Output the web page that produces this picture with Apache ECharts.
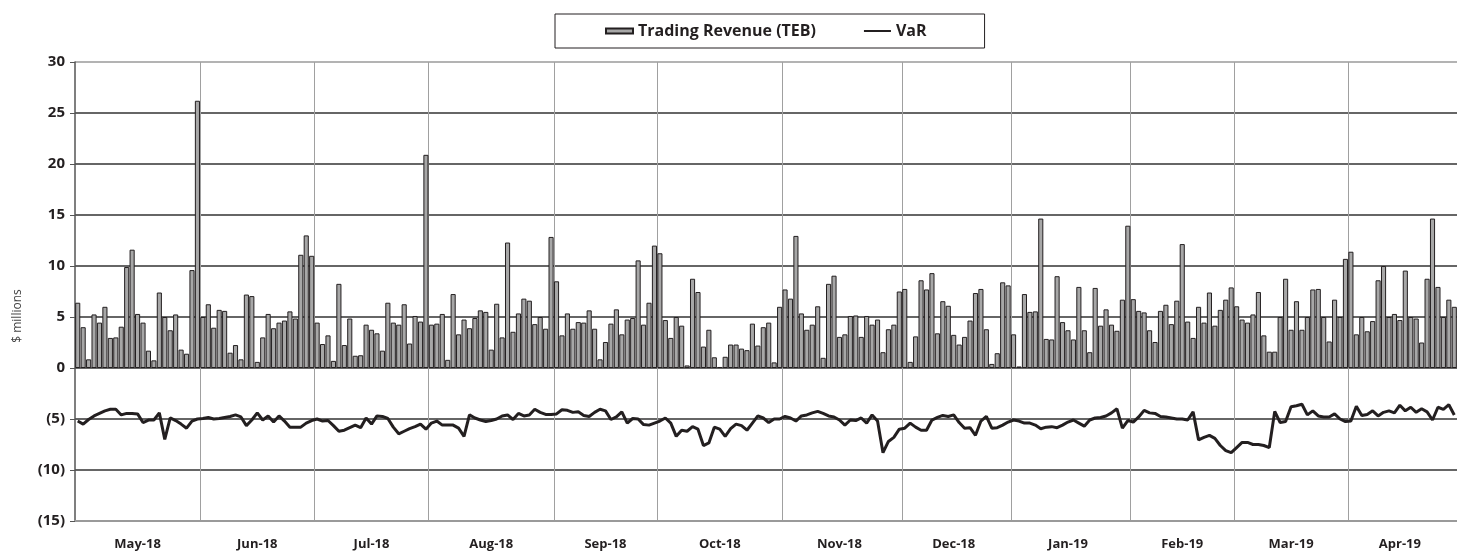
<!DOCTYPE html>
<html>
<head>
<meta charset="utf-8">
<style>
  html, body { margin: 0; padding: 0; background: #fff; }
  #chart { width: 1457px; height: 554px; }
</style>
<script src="https://cdn.jsdelivr.net/npm/echarts@6/dist/echarts.min.js"></script>
</head>
<body>
<div id="chart"></div>
<script>
const months = ['May-18', 'Jun-18', 'Jul-18', 'Aug-18', 'Sep-18', 'Oct-18',
  'Nov-18', 'Dec-18', 'Jan-19', 'Feb-19', 'Mar-19', 'Apr-19']
const tradingDays = [23, 21, 21, 23, 19, 23, 22, 20, 22, 19, 21, 20]

// daily trading revenue, $ millions
const revenue = [
  6.4, 4.0, 0.85, 5.25, 4.45, 6.0, 2.95, 3.0, 4.05, 9.9, 11.6, 5.3, 4.45, 1.7, 0.75, 7.4, 5.0, 3.7, 5.25, 1.8, 1.4, 9.6, 26.2,
  5.0, 6.25, 3.95, 5.7, 5.6, 1.5, 2.25, 0.85, 7.2, 7.05, 0.6, 3.0, 5.3, 3.9, 4.45, 4.65, 5.55, 4.85, 11.1, 13.0, 11.0,
  4.45, 2.35, 3.2, 0.7, 8.25, 2.25, 4.85, 1.2, 1.25, 4.25, 3.75, 3.4, 1.7, 6.4, 4.45, 4.25, 6.25, 2.4, 5.1, 4.55, 20.9,
  4.25, 4.35, 5.3, 0.8, 7.25, 3.3, 4.75, 3.9, 4.9, 5.65, 5.5, 1.8, 6.3, 3.0, 12.3, 3.55, 5.35, 6.8, 6.6, 4.3, 5.0, 3.85, 12.85,
  8.5, 3.2, 5.35, 3.85, 4.5, 4.45, 5.65, 3.85, 0.85, 2.55, 4.35, 5.75, 3.3, 4.75, 4.9, 10.55, 4.25, 6.4, 12.0,
  11.25, 4.7, 2.95, 5.0, 4.15, 0.25, 8.75, 7.45, 2.1, 3.75, 1.05, 0.1, 1.1, 2.3, 2.3, 1.9, 1.75, 4.35, 2.2, 4.0, 4.45, 0.55, 6.0,
  7.7, 6.8, 12.95, 5.35, 3.75, 4.25, 6.05, 1.0, 8.25, 9.05, 3.05, 3.3, 5.1, 5.15, 3.05, 5.1, 4.25, 4.75, 1.55, 3.8, 4.25, 7.5,
  7.75, 0.6, 3.1, 8.6, 7.7, 9.3, 3.4, 6.55, 6.1, 3.25, 2.3, 3.05, 4.65, 7.35, 7.75, 3.8, 0.4, 1.45, 8.4, 8.1,
  3.3, 0.15, 7.25, 5.5, 5.55, 14.65, 2.85, 2.8, 9.0, 4.5, 3.7, 2.8, 7.95, 3.7, 1.55, 7.85, 4.15, 5.75, 4.25, 3.65, 6.7, 13.95,
  6.75, 5.6, 5.45, 3.7, 2.55, 5.6, 6.2, 4.3, 6.6, 12.15, 4.55, 2.95, 6.0, 4.45, 7.4, 4.15, 5.7, 6.7, 7.9,
  6.05, 4.75, 4.45, 5.25, 7.45, 3.2, 1.6, 1.6, 5.0, 8.75, 3.75, 6.55, 3.75, 5.0, 7.7, 7.75, 5.0, 2.6, 6.7, 5.0, 10.7,
  11.4, 3.3, 5.0, 3.6, 4.6, 8.6, 10.0, 5.0, 5.3, 4.7, 9.55, 5.0, 4.85, 2.5, 8.75, 14.65, 7.95, 5.0, 6.7, 6.0,
]

// daily VaR, $ millions
const varData = [
  -5.2, -5.5, -5.05, -4.7, -4.45, -4.2, -4.05, -4.05, -4.6, -4.45, -4.45, -4.5, -5.35, -5.1, -5.1, -4.4,
  -7.0, -4.9, -5.15, -5.5, -5.9, -5.2, -5.0, -4.95, -4.85, -5.0, -4.95, -4.85, -4.75, -4.6, -4.8, -5.65,
  -5.1, -4.4, -5.1, -4.7, -5.3, -4.7, -5.2, -5.8, -5.8, -5.8, -5.4, -5.15, -5.0, -5.2, -5.15, -5.65,
  -6.2, -6.1, -5.85, -5.6, -5.85, -4.9, -5.5, -4.7, -4.75, -4.95, -5.8, -6.45, -6.2, -5.95, -5.75, -5.5,
  -6.0, -5.4, -5.2, -5.6, -5.6, -5.6, -5.9, -6.7, -4.6, -4.9, -5.1, -5.25, -5.15, -5.0, -4.7, -4.6,
  -5.05, -4.45, -4.7, -4.6, -4.05, -4.35, -4.55, -4.55, -4.5, -4.1, -4.15, -4.35, -4.3, -4.65, -4.75,
  -4.35, -4.05, -4.2, -5.05, -4.8, -4.3, -5.4, -4.95, -5.0, -5.55, -5.6, -5.4, -5.2, -4.9, -5.4, -6.7,
  -6.1, -6.2, -5.75, -6.0, -7.6, -7.35, -5.8, -6.0, -6.7, -5.95, -5.5, -5.65, -6.1, -5.4, -4.7,
  -4.9, -5.35, -5.0, -5.0, -4.75, -4.9, -5.2, -4.7, -4.6, -4.4, -4.25, -4.45, -4.7, -4.8, -5.1, -5.6,
  -5.1, -5.15, -4.9, -5.4, -4.6, -5.2, -8.3, -7.2, -6.8, -6.0, -5.9, -5.4, -5.8, -6.1, -6.1,
  -5.1, -4.85, -4.65, -4.75, -4.6, -5.35, -5.9, -5.85, -6.6, -5.2, -4.75, -5.9, -5.85, -5.6, -5.3, -5.1,
  -5.2, -5.4, -5.4, -5.6, -5.95, -5.8, -5.75, -5.85, -5.6, -5.3, -5.1, -5.4, -5.7, -5.1, -4.9,
  -4.85, -4.7, -4.4, -4.0, -5.9, -5.15, -5.3, -4.8, -4.15, -4.4, -4.45, -4.75, -4.8, -4.9, -5.0, -5.0,
  -5.1, -4.3, -7.05, -6.8, -6.6, -6.9, -7.6, -8.1, -8.3, -7.8, -7.3, -7.3, -7.5, -7.5, -7.6,
  -7.8, -4.25, -5.35, -5.25, -3.8, -3.7, -3.55, -4.6, -4.2, -4.7, -4.8, -4.8, -4.5, -5.0, -5.25,
  -5.2, -3.75, -4.65, -4.55, -4.2, -4.7, -4.35, -4.2, -4.4, -3.65, -4.2, -3.85, -4.35, -4.0, -4.3,
  -5.1, -3.85, -4.05, -3.6, -4.6,
]

const yTicks = { min: -15, max: 30, interval: 5 }

// one category per trading day, month boundaries and label positions
const days = []
const monthStart = {}
const monthLabel = {}
months.forEach((m, k) => {
  const first = days.length
  monthStart[first] = true
  monthLabel[first + Math.floor((tradingDays[k] - 1) / 2)] = m
  for (let d = 0; d < tradingDays[k]; d++) days.push(m + ' ' + (d + 1))
})

const ink = '#231f20'
const font = '"Open Sans", "Noto Sans", sans-serif'

const chart = echarts.init(document.getElementById('chart'))
chart.setOption({
  animation: false,
  backgroundColor: '#fff',
  grid: {
    left: 75,
    top: 62,
    width: 1385,
    height: 459,
  },
  legend: {
    left: 555,
    top: 14,
    padding: [9, 58, 9, 50],
    borderColor: ink,
    borderWidth: 1,
    itemGap: 48,
    itemWidth: 27,
    itemHeight: 5,
    textStyle: {
      fontFamily: font,
      fontWeight: 'bold',
      fontSize: 16,
      color: ink,
    },
    data: [
      { name: 'Trading Revenue (TEB)', icon: 'rect' },
      // thin horizontal stroke, no marker
      { name: 'VaR', icon: 'path://M0,0L0.1,0M0,3H60V7H0ZM0,10L0.1,10', itemStyle: { color: ink, borderWidth: 0 } },
    ],
  },
  graphic: [
    {
      type: 'text',
      x: 18,
      y: 316,
      rotation: Math.PI / 2,
      style: {
        text: '$ millions',
        align: 'center',
        verticalAlign: 'middle',
        fontFamily: font,
        fontSize: 12,
        fill: '#444',
      },
    },
  ],
  xAxis: {
    type: 'category',
    data: days,
    boundaryGap: true,
    axisLine: {
      onZero: false,
      lineStyle: { color: '#9a9a9a', width: 2 },
    },
    axisTick: { show: false },
    axisLabel: {
      interval: (i) => monthLabel[i] !== undefined,
      formatter: (v, i) => monthLabel[i] || '',
      margin: 17,
      fontFamily: font,
      fontWeight: 'bold',
      fontSize: 13,
      color: ink,
    },
    splitLine: {
      show: true,
      interval: (i) => i > 0 && monthStart[i] === true,
      lineStyle: { color: '#a0a0a0', width: 1 },
    },
  },
  yAxis: {
    type: 'value',
    min: yTicks.min,
    max: yTicks.max,
    interval: yTicks.interval,
    axisLine: {
      show: true,
      lineStyle: { color: '#555', width: 1.5 },
    },
    axisTick: {
      show: true,
      length: 5,
      lineStyle: { color: '#555' },
    },
    axisLabel: {
      margin: 10,
      fontFamily: font,
      fontWeight: 'bold',
      fontSize: 15,
      color: ink,
      formatter: (v) => (v < 0 ? '(' + -v + ')' : String(v)),
    },
    splitLine: {
      lineStyle: {
        color: ['#9a9a9a', '#333', '#333', '#333', '#333', '#333', '#333', '#333', '#333', '#9a9a9a'],
        width: 1.5,
      },
    },
  },
  series: [
    {
      name: 'Trading Revenue (TEB)',
      type: 'bar',
      data: revenue,
      barCategoryGap: '6%',
      itemStyle: {
        color: '#a7a7a7',
        borderColor: ink,
        borderWidth: 1,
      },
    },
    {
      name: 'VaR',
      type: 'line',
      data: varData,
      symbol: 'none',
      z: 3,
      lineStyle: { color: ink, width: 3 },
      itemStyle: { color: ink },
    },
  ],
})
</script>
</body>
</html>
